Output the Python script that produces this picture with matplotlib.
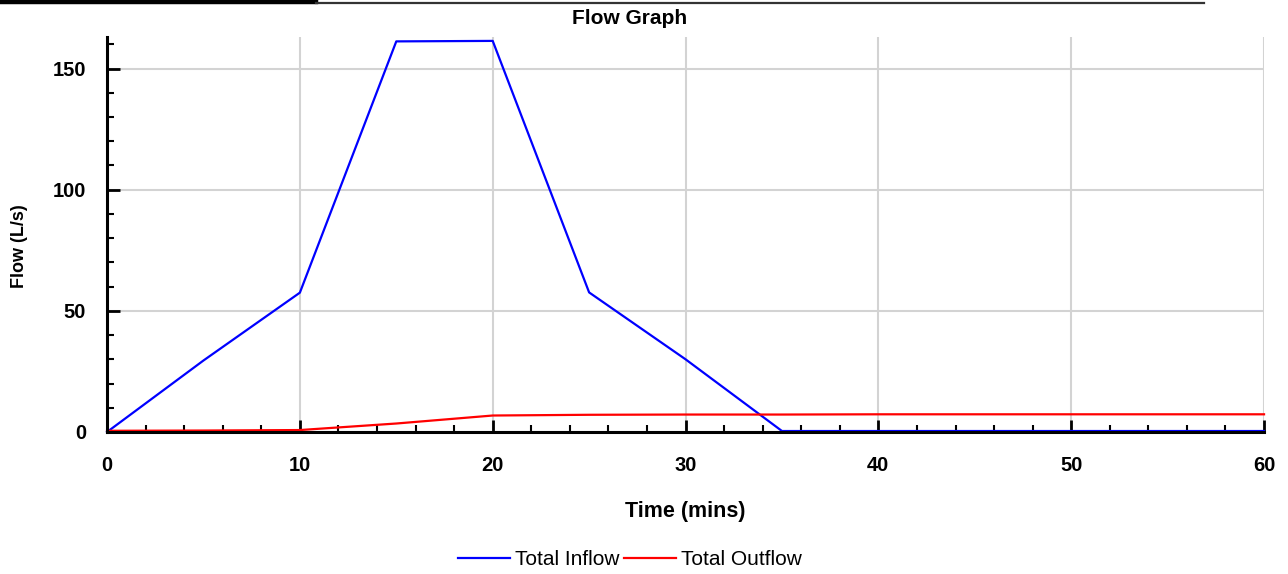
import matplotlib.pyplot as plt
from matplotlib.ticker import MultipleLocator
from matplotlib.lines import Line2D

plt.rcParams['font.family'] = ['Liberation Sans', 'DejaVu Sans']

# data
time_min = [0, 5, 10, 15, 20, 25, 30, 35, 40, 45, 50, 55, 60]
inflow = [0, 29.5, 57.5, 161.2, 161.4, 57.6, 30.0, 0.4, 0.4, 0.4, 0.4, 0.4, 0.4]
outflow = [0.5, 0.6, 0.8, 3.5, 6.8, 7.1, 7.2, 7.2, 7.3, 7.3, 7.3, 7.3, 7.3]

fig = plt.figure(figsize=(12.88, 5.74), dpi=100)
ax = fig.add_axes([0.0831, 0.2474, 0.8983, 0.6881])

ax.plot(time_min, inflow, color='blue', lw=1.6, label='Total Inflow', clip_on=False, zorder=3)
ax.plot(time_min, outflow, color='red', lw=1.6, label='Total Outflow', clip_on=False, zorder=3)

ax.set_xlim(0, 60)
ax.set_ylim(0, 163)
ax.xaxis.set_major_locator(MultipleLocator(10))
ax.xaxis.set_minor_locator(MultipleLocator(2))
ax.yaxis.set_major_locator(MultipleLocator(50))
ax.yaxis.set_minor_locator(MultipleLocator(10))

ax.grid(True, which='major', color='#d3d3d3', lw=1.5)
ax.set_axisbelow(True)

for s in ['top', 'right']:
    ax.spines[s].set_visible(False)
for s in ['left', 'bottom']:
    ax.spines[s].set_linewidth(2.2)
    ax.spines[s].set_zorder(4)

ax.tick_params(which='major', direction='in', length=9, width=2, labelsize=14.5)
ax.tick_params(which='minor', direction='in', length=5, width=1.5)
ax.tick_params(axis='x', pad=17)
ax.tick_params(axis='y', pad=15)
for lbl in ax.get_xticklabels() + ax.get_yticklabels():
    lbl.set_fontweight('bold')

ax.set_xlabel('Time (mins)', fontsize=15.5, fontweight='bold', labelpad=19)
ax.set_ylabel('Flow (L/s)', fontsize=13, fontweight='bold')
ax.yaxis.set_label_coords(-0.068, 0.47)
fig.text(0.489, 1 - 19 / 574, 'Flow Graph', fontsize=15, fontweight='bold', ha='center', va='center')

handles = [Line2D([], [], color='blue', lw=1.6), Line2D([], [], color='red', lw=1.6)]
fig.legend(handles, ['Total Inflow', 'Total Outflow'], loc='center', bbox_to_anchor=(0.489, 0.025),
           ncol=2, frameon=False, fontsize=15, handlelength=2.5, columnspacing=0.2, handletextpad=0.25)

# header bar at top of image
fig.add_artist(Line2D([0, 316 / 1288], [1 - 2 / 574, 1 - 2 / 574], color='black', lw=3.2))
fig.add_artist(Line2D([316 / 1288, 1204 / 1288], [1 - 2.5 / 574, 1 - 2.5 / 574], color='#333333', lw=1.6))

fig.savefig('out.png', dpi=100)
